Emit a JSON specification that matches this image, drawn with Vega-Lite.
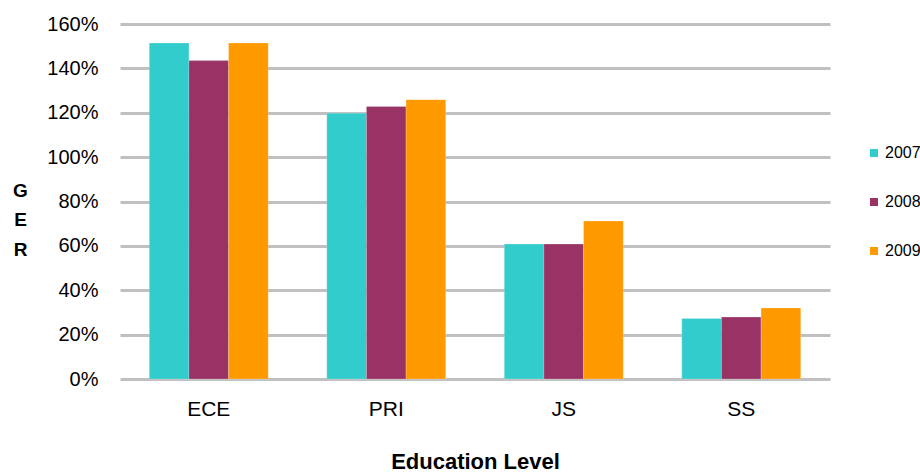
{
  "$schema": "https://vega.github.io/schema/vega-lite/v6.json",
  "background": "white",
  "autosize": {"type": "none"},
  "padding": {"left": 120, "top": 24, "right": 90, "bottom": 95},
  "width": 710,
  "height": 355,
  "config": {
    "font": "Liberation Sans",
    "view": {"stroke": null}
  },
  "data": {
    "values": [
      {"level": "ECE", "year": "2007", "ger": 1.514},
      {"level": "ECE", "year": "2008", "ger": 1.435},
      {"level": "ECE", "year": "2009", "ger": 1.514},
      {"level": "PRI", "year": "2007", "ger": 1.198},
      {"level": "PRI", "year": "2008", "ger": 1.228},
      {"level": "PRI", "year": "2009", "ger": 1.259},
      {"level": "JS", "year": "2007", "ger": 0.608},
      {"level": "JS", "year": "2008", "ger": 0.608},
      {"level": "JS", "year": "2009", "ger": 0.712},
      {"level": "SS", "year": "2007", "ger": 0.273},
      {"level": "SS", "year": "2008", "ger": 0.279},
      {"level": "SS", "year": "2009", "ger": 0.32}
    ]
  },
  "mark": {"type": "bar", "stroke": "#ffffff", "strokeOpacity": 0.4, "strokeWidth": 0.5},
  "encoding": {
    "x": {
      "field": "level",
      "type": "nominal",
      "sort": ["ECE", "PRI", "JS", "SS"],
      "scale": {"paddingInner": 0.33, "paddingOuter": 0.165},
      "axis": {
        "title": "Education Level",
        "titleFontSize": 22,
        "titleFontWeight": "bold",
        "titleColor": "#000000",
        "titleBaseline": "middle",
        "titleY": 82,
        "labelAngle": 0,
        "labelFontSize": 21,
        "labelColor": "#000000",
        "labelBaseline": "middle",
        "labelPadding": 30,
        "ticks": false,
        "domain": false
      }
    },
    "xOffset": {"field": "year", "type": "nominal", "scale": {"paddingInner": 0}},
    "y": {
      "field": "ger",
      "type": "quantitative",
      "scale": {"domain": [0, 1.6], "nice": false},
      "axis": {
        "title": ["G", "E", "R"],
        "titleAngle": 0,
        "titleFontSize": 19,
        "titleFontWeight": "bold",
        "titleColor": "#000000",
        "titleAlign": "center",
        "titleBaseline": "middle",
        "titleLineHeight": 29.5,
        "titleX": -100,
        "titleY": 166,
        "format": ".0%",
        "values": [0, 0.2, 0.4, 0.6, 0.8, 1, 1.2, 1.4, 1.6],
        "labelFontSize": 20,
        "labelColor": "#000000",
        "labelPadding": 22,
        "ticks": false,
        "domain": false,
        "grid": true,
        "gridColor": "#c0c0c0",
        "gridWidth": 3
      }
    },
    "color": {
      "field": "year",
      "type": "nominal",
      "scale": {"domain": ["2007", "2008", "2009"], "range": ["#33cccc", "#993366", "#ff9900"]},
      "legend": {
        "title": null,
        "orient": "none",
        "legendX": 746,
        "legendY": 121,
        "padding": 0,
        "symbolType": "square",
        "symbolSize": 64,
        "symbolStrokeWidth": 0,
        "symbolOpacity": 1,
        "labelFontSize": 16,
        "labelColor": "#000000",
        "labelOffset": 3,
        "rowPadding": 33
      }
    }
  }
}
